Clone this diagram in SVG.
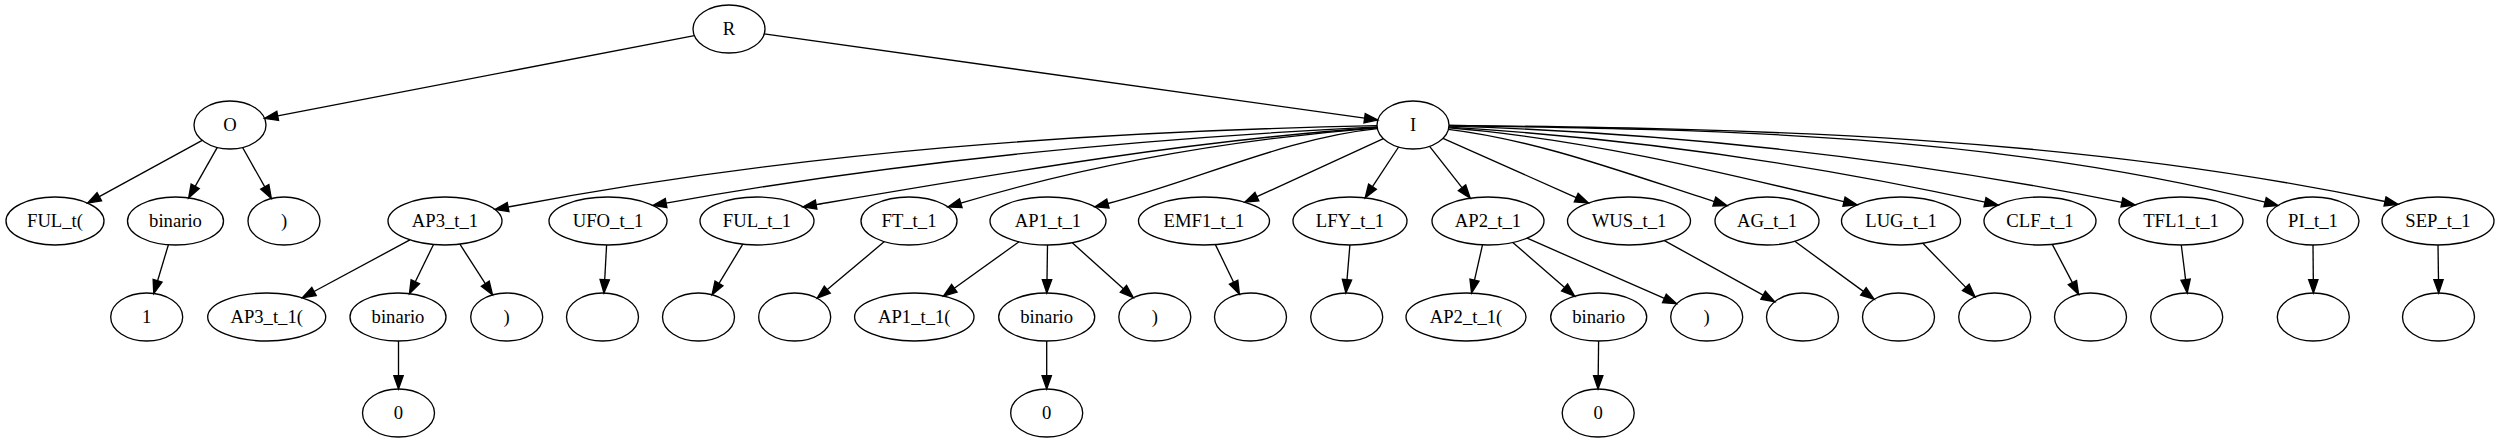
<svg xmlns="http://www.w3.org/2000/svg" width="2500" height="443" viewBox="0 0 2500 443">
<style>
.n ellipse{fill:none;stroke:#000;stroke-width:1.33}
.n text{font-family:"Liberation Serif","Times New Roman",serif;font-size:18.67px;text-anchor:middle;fill:#000}
#edges path{fill:none;stroke:#000;stroke-width:1.33;marker-end:url(#arr)}
</style>
<defs>
<marker id="arr" markerUnits="userSpaceOnUse" viewBox="0 0 13.33 9.33" markerWidth="13.33" markerHeight="9.33" refX="0" refY="4.67" orient="auto" overflow="visible">
<path d="M0,0 L13.33,4.67 L0,9.33 Z" fill="#000" stroke="#000" stroke-width="1.33"/>
</marker>
</defs>
<rect width="2500" height="443" fill="#fff"/>
<g id="edges">
<path d="M694.4,35.7 L277.7,115.8"/>
<path d="M764.2,33.9 L1364.6,118.2"/>
<path d="M202.2,140.3 L99.3,196.7"/>
<path d="M217.3,147.4 L195.2,186.3"/>
<path d="M242.6,147.5 L264.8,186.9"/>
<path d="M168.4,244.7 L157.6,280.7"/>
<path d="M1377.0,125.7 C1087.4,131.5 797.7,152.0 508.1,207.0"/>
<path d="M1377.1,126.8 C1140.1,138.7 903.1,160.4 666.1,203.1"/>
<path d="M1377.2,127.5 C1190.2,140.6 1003.1,172.8 816.1,204.6"/>
<path d="M1377.25,127.9 C1238.4,139.0 1099.6,161.6 960.8,203.2"/>
<path d="M1377.4,128.6 C1287.6,137.6 1197.7,180.2 1107.9,203.5"/>
<path d="M1383.4,138.6 L1256.9,196.7"/>
<path d="M1398.6,147.0 L1372.5,186.7"/>
<path d="M1429.6,146.3 L1462.0,187.7"/>
<path d="M1443.0,138.3 L1576.2,197.6"/>
<path d="M1448.4,129.3 C1537.0,139.9 1625.7,173.2 1714.3,201.6"/>
<path d="M1448.75,127.9 C1580.5,138.4 1712.2,170.1 1844.0,201.7"/>
<path d="M1448.86,127.15 C1627.6,137.9 1806.3,162.9 1985.0,202.2"/>
<path d="M1449.0,126.1 C1673.3,132.8 1897.6,157.4 2121.9,202.3"/>
<path d="M1449.0,125.5 C1721.0,129.6 1993.1,134.2 2265.1,202.2"/>
<path d="M1449.0,125.4 C1761,128.5 2073,136.0 2385.0,201.5"/>
<path d="M409.9,239.9 L314.0,291.5"/>
<path d="M433.5,244.5 L415.3,281.7"/>
<path d="M459.9,244.2 L485.3,283.7"/>
<path d="M398.5,341 L398.5,375.7"/>
<path d="M606.6,245 L604.7,279.7"/>
<path d="M742.8,244.2 L719.0,283.4"/>
<path d="M884.4,241.6 L827.3,289.6"/>
<path d="M1019.0,241.8 L954.3,288.3"/>
<path d="M1047.5,245 L1047.0,279.7"/>
<path d="M1072.3,242.8 L1123.4,288.8"/>
<path d="M1046.7,341 L1046.7,375.7"/>
<path d="M1215.4,244.6 L1233.6,282.2"/>
<path d="M1349.9,245 L1347.0,279.7"/>
<path d="M1482.5,244.9 L1474.5,280.1"/>
<path d="M1512.8,242.5 L1564.6,287.5"/>
<path d="M1527.1,238.2 L1664.4,298.4"/>
<path d="M1598.6,341 L1598.2,375.7"/>
<path d="M1664.4,240.6 L1763.1,295.2"/>
<path d="M1794.8,241.3 L1863.4,291.4"/>
<path d="M1922.8,243.3 L1965.8,287.4"/>
<path d="M2052.3,244.4 L2072.4,282.6"/>
<path d="M2181.3,245 L2185.6,279.7"/>
<path d="M2313,245 L2313.3,279.7"/>
<path d="M2438,245 L2438.5,279.7"/>
</g>
<g id="n_R" class="n"><ellipse cx="729" cy="29" rx="36" ry="24"/><text x="729" y="35">R</text></g>
<g id="n_O" class="n"><ellipse cx="230" cy="125" rx="36" ry="24"/><text x="230" y="131">O</text></g>
<g id="n_I" class="n"><ellipse cx="1413" cy="125" rx="36" ry="24"/><text x="1413" y="131">I</text></g>
<g id="n_FUL_t_open" class="n"><ellipse cx="55" cy="221" rx="49" ry="24"/><text x="55" y="227">FUL_t(</text></g>
<g id="n_O_binario" class="n"><ellipse cx="175.5" cy="221" rx="48" ry="24"/><text x="175.5" y="227">binario</text></g>
<g id="n_O_close" class="n"><ellipse cx="284" cy="221" rx="36" ry="24"/><text x="284" y="227">)</text></g>
<g id="n_AP3_t_1" class="n"><ellipse cx="445" cy="221" rx="57" ry="24"/><text x="445" y="227">AP3_t_1</text></g>
<g id="n_UFO_t_1" class="n"><ellipse cx="608" cy="221" rx="59" ry="24"/><text x="608" y="227">UFO_t_1</text></g>
<g id="n_FUL_t_1" class="n"><ellipse cx="757" cy="221" rx="57" ry="24"/><text x="757" y="227">FUL_t_1</text></g>
<g id="n_FT_t_1" class="n"><ellipse cx="909" cy="221" rx="48" ry="24"/><text x="909" y="227">FT_t_1</text></g>
<g id="n_AP1_t_1" class="n"><ellipse cx="1048" cy="221" rx="58" ry="24"/><text x="1048" y="227">AP1_t_1</text></g>
<g id="n_EMF1_t_1" class="n"><ellipse cx="1204" cy="221" rx="65.5" ry="24"/><text x="1204" y="227">EMF1_t_1</text></g>
<g id="n_LFY_t_1" class="n"><ellipse cx="1350" cy="221" rx="57" ry="24"/><text x="1350" y="227">LFY_t_1</text></g>
<g id="n_AP2_t_1" class="n"><ellipse cx="1488" cy="221" rx="56" ry="24"/><text x="1488" y="227">AP2_t_1</text></g>
<g id="n_WUS_t_1" class="n"><ellipse cx="1629" cy="221" rx="61.5" ry="24"/><text x="1629" y="227">WUS_t_1</text></g>
<g id="n_AG_t_1" class="n"><ellipse cx="1767" cy="221" rx="52" ry="24"/><text x="1767" y="227">AG_t_1</text></g>
<g id="n_LUG_t_1" class="n"><ellipse cx="1901" cy="221" rx="59.5" ry="24"/><text x="1901" y="227">LUG_t_1</text></g>
<g id="n_CLF_t_1" class="n"><ellipse cx="2040" cy="221" rx="56" ry="24"/><text x="2040" y="227">CLF_t_1</text></g>
<g id="n_TFL1_t_1" class="n"><ellipse cx="2181" cy="221" rx="62" ry="24"/><text x="2181" y="227">TFL1_t_1</text></g>
<g id="n_PI_t_1" class="n"><ellipse cx="2313" cy="221" rx="46" ry="24"/><text x="2313" y="227">PI_t_1</text></g>
<g id="n_SEP_t_1" class="n"><ellipse cx="2438" cy="221" rx="56" ry="24"/><text x="2438" y="227">SEP_t_1</text></g>
<g id="n_one" class="n"><ellipse cx="146.7" cy="317" rx="36" ry="24"/><text x="146.7" y="323">1</text></g>
<g id="n_AP3_open" class="n"><ellipse cx="266.7" cy="317" rx="59" ry="24"/><text x="266.7" y="323">AP3_t_1(</text></g>
<g id="n_AP3_binario" class="n"><ellipse cx="398" cy="317" rx="48" ry="24"/><text x="398" y="323">binario</text></g>
<g id="n_AP3_close" class="n"><ellipse cx="506.7" cy="317" rx="36" ry="24"/><text x="506.7" y="323">)</text></g>
<g id="n_UFO_leaf" class="n"><ellipse cx="602.5" cy="317" rx="36" ry="24"/></g>
<g id="n_FUL_leaf" class="n"><ellipse cx="698.5" cy="317" rx="36" ry="24"/></g>
<g id="n_FT_leaf" class="n"><ellipse cx="794.7" cy="317" rx="36" ry="24"/></g>
<g id="n_AP1_open" class="n"><ellipse cx="914.3" cy="317" rx="59.7" ry="24"/><text x="914.3" y="323">AP1_t_1(</text></g>
<g id="n_AP1_binario" class="n"><ellipse cx="1046.7" cy="317" rx="48" ry="24"/><text x="1046.7" y="323">binario</text></g>
<g id="n_AP1_close" class="n"><ellipse cx="1154.8" cy="317" rx="36" ry="24"/><text x="1154.8" y="323">)</text></g>
<g id="n_EMF1_leaf" class="n"><ellipse cx="1250.5" cy="317" rx="36" ry="24"/></g>
<g id="n_LFY_leaf" class="n"><ellipse cx="1346.7" cy="317" rx="36" ry="24"/></g>
<g id="n_AP2_open" class="n"><ellipse cx="1466" cy="317" rx="60" ry="24"/><text x="1466" y="323">AP2_t_1(</text></g>
<g id="n_AP2_binario" class="n"><ellipse cx="1598.7" cy="317" rx="48" ry="24"/><text x="1598.7" y="323">binario</text></g>
<g id="n_AP2_close" class="n"><ellipse cx="1706.7" cy="317" rx="36" ry="24"/><text x="1706.7" y="323">)</text></g>
<g id="n_WUS_leaf" class="n"><ellipse cx="1802.5" cy="317" rx="36" ry="24"/></g>
<g id="n_AG_leaf" class="n"><ellipse cx="1898.5" cy="317" rx="36" ry="24"/></g>
<g id="n_LUG_leaf" class="n"><ellipse cx="1994.7" cy="317" rx="36" ry="24"/></g>
<g id="n_CLF_leaf" class="n"><ellipse cx="2090.5" cy="317" rx="36" ry="24"/></g>
<g id="n_TFL1_leaf" class="n"><ellipse cx="2186.7" cy="317" rx="36" ry="24"/></g>
<g id="n_PI_leaf" class="n"><ellipse cx="2313.3" cy="317" rx="36" ry="24"/></g>
<g id="n_SEP_leaf" class="n"><ellipse cx="2438.5" cy="317" rx="36" ry="24"/></g>
<g id="n_AP3_zero" class="n"><ellipse cx="398.5" cy="413" rx="36" ry="24"/><text x="398.5" y="419">0</text></g>
<g id="n_AP1_zero" class="n"><ellipse cx="1046.7" cy="413" rx="36" ry="24"/><text x="1046.7" y="419">0</text></g>
<g id="n_AP2_zero" class="n"><ellipse cx="1598.2" cy="413" rx="36" ry="24"/><text x="1598.2" y="419">0</text></g>
</svg>
